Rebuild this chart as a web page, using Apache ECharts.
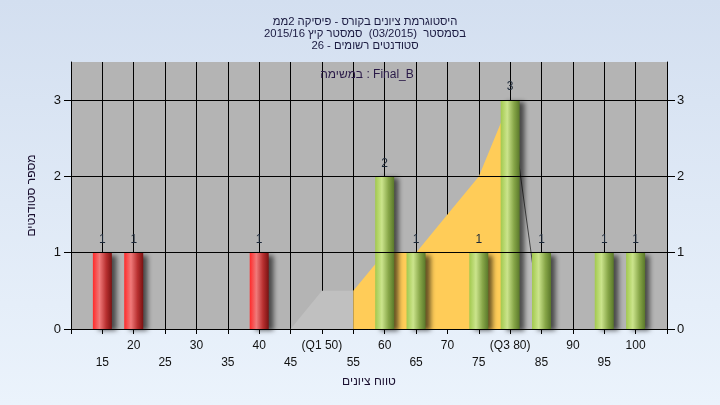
<!DOCTYPE html>
<html><head><meta charset="utf-8">
<script src="https://cdn.jsdelivr.net/npm/echarts@6/dist/echarts.min.js"></script>
<style>html,body{margin:0;padding:0;}#c{width:720px;height:405px;}</style>
</head><body><div id="c"></div>
<script>
// ---- data ----
const grades = [15, 20, 40, 60, 65, 75, 80, 85, 95, 100];
const counts = [1, 1, 1, 2, 1, 1, 3, 1, 1, 1];
const failBelow = 45;
const xTicks = [15, 20, 25, 30, 35, 40, 45, 50, 55, 60, 65, 70, 75, 80, 85, 90, 95, 100];
const xTickLabels = ['15', '20', '25', '30', '35', '40', '45', '(Q1 50)', '55', '60', '65', '70', '75', '(Q3 80)', '85', '90', '95', '100'];
const yTicks = [0, 1, 2, 3];
const lowWhisker = [[45, 0], [50, 0.5], [55, 0.5]];
const boxShape = [[55, 0.5], [60, 1], [65, 1], [70, 1.5], [75, 2], [80, 3]];
const highWhisker = [[80, 3], [85, 0]];
const titleLines = [
  'היסטוגרמת ציונים בקורס - פיסיקה 2ממ',
  'בסמסטר  (03/2015)  סמסטר קיץ 2015/16',
  'סטודנטים רשומים - 26'
];
const subLabel = 'במשימה : Final_B';
const xName = 'טווח ציונים';
const yName = 'מספר סטודנטים';

// ---- chart ----
const FONT = 'Liberation Sans';
const chart = echarts.init(document.getElementById('c'), null, {renderer: 'canvas'});

function barGrad(fail) {
  return fail
    ? {type: 'linear', x: 0, y: 0, x2: 1, y2: 0, colorStops: [
        {offset: 0, color: '#ff2a2a'}, {offset: 0.35, color: '#f07a7a'}, {offset: 0.7, color: '#b83030'}, {offset: 1, color: '#7a1212'}]}
    : {type: 'linear', x: 0, y: 0, x2: 1, y2: 0, colorStops: [
        {offset: 0, color: '#a2c94e'}, {offset: 0.35, color: '#cbe48c'}, {offset: 0.7, color: '#87a648'}, {offset: 1, color: '#5a782a'}]};
}

const barData = grades.map((g, i) => ({
  value: [g, counts[i]],
  itemStyle: {color: barGrad(g < failBelow)}
}));

const option = {
  animation: false,
  backgroundColor: {type: 'linear', x: 0, y: 0, x2: 0, y2: 1, colorStops: [
    {offset: 0, color: '#d3dff0'}, {offset: 1, color: '#ebf3fc'}]},
  textStyle: {fontFamily: FONT},
  title: {
    text: titleLines.join('\n'),
    left: 360, top: 11,
    textAlign: 'center',
    textStyle: {fontFamily: FONT, fontSize: 11.3, fontWeight: 'normal', color: '#1a1a40', lineHeight: 12}
  },
  graphic: [{
    type: 'text', x: 367, y: 75, z: 100,
    style: {text: subLabel, font: '12px "' + FONT + '"', fill: '#2a1a48', align: 'center', verticalAlign: 'middle'}
  }],
  grid: {left: 71, right: 53, top: 62, bottom: 76, show: true, backgroundColor: '#b4b4b4', borderWidth: 0},
  xAxis: {
    type: 'value', min: 10, max: 105, interval: 5,
    name: xName, nameLocation: 'middle', nameGap: 45,
    nameTextStyle: {fontFamily: FONT, fontSize: 12, color: '#1a1030'},
    axisLine: {show: true, lineStyle: {color: '#000', width: 1}},
    axisTick: {show: true, length: 5, lineStyle: {color: '#000'}},
    splitLine: {show: true, lineStyle: {color: '#000', width: 1}},
    axisLabel: {
      fontFamily: FONT, fontSize: 12, color: '#111', margin: 8, lineHeight: 17,
      formatter: function (v) {
        const i = xTicks.indexOf(v);
        if (i < 0) return '';
        return (v % 10 === 0) ? xTickLabels[i] : '\n' + xTickLabels[i];
      }
    }
  },
  yAxis: [{
    type: 'value', min: 0, max: 3.5, position: 'left',
    name: yName, nameLocation: 'middle', nameGap: 33, nameRotate: 90,
    nameTextStyle: {fontFamily: FONT, fontSize: 12, color: '#1a1030'},
    axisLine: {show: true, lineStyle: {color: '#000'}},
    axisTick: {show: true, length: 7, customValues: yTicks, lineStyle: {color: '#000'}},
    axisLabel: {customValues: yTicks, fontFamily: FONT, fontSize: 13, color: '#111', margin: 10},
    splitLine: {show: false}
  }, {
    type: 'value', min: 0, max: 3.5, position: 'right',
    axisLine: {show: true, lineStyle: {color: '#000'}},
    axisTick: {show: true, length: 8, customValues: yTicks, lineStyle: {color: '#000'}},
    axisLabel: {customValues: yTicks, fontFamily: FONT, fontSize: 13, color: '#111', margin: 10},
    splitLine: {show: false}
  }],
  series: [
    {
      type: 'line', data: [], z: 1, silent: true,
      markLine: {
        silent: true, symbol: ['none', 'none'], label: {show: false},
        lineStyle: {color: '#000', width: 1, type: 'solid'},
        data: yTicks.filter(v => v > 0).map(v => ({yAxis: v}))
      }
    },
    {
      type: 'line', data: lowWhisker, z: 2, symbol: 'none', silent: true,
      lineStyle: {width: 0}, areaStyle: {color: '#c0c0c0', opacity: 1}
    },
    {
      type: 'line', data: boxShape, z: 2, symbol: 'none', silent: true,
      lineStyle: {width: 0}, areaStyle: {color: '#ffcc58', opacity: 1}
    },
    {
      type: 'line', data: highWhisker, z: 2, symbol: 'none', silent: true,
      lineStyle: {width: 1, color: '#444'}, areaStyle: {color: '#bcbcbc', opacity: 1}
    },
    {
      type: 'bar', data: barData, barWidth: 19, z: 3,
      itemStyle: {shadowColor: 'rgba(0,0,0,0.6)', shadowBlur: 5, shadowOffsetX: 5, shadowOffsetY: 2},
      label: {show: true, position: 'top', distance: 7, fontFamily: FONT, fontSize: 12, color: '#1c2838',
        formatter: p => String(p.value[1])}
    }
  ]
};
chart.setOption(option);
</script>
</body></html>
